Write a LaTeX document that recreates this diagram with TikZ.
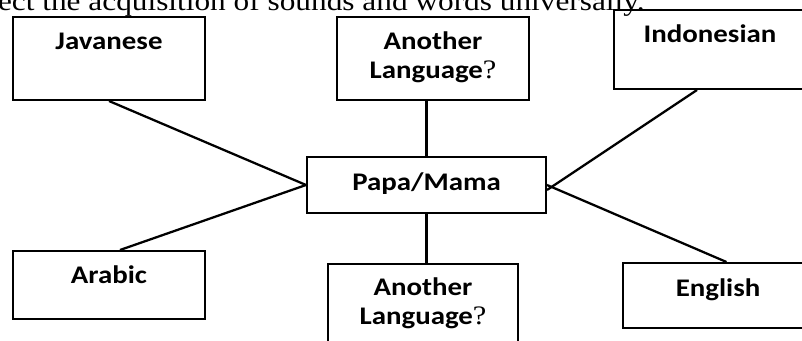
\documentclass[tikz,border=0pt]{standalone}
\usepackage{fontspec}
\setmainfont{Liberation Serif}
\newfontfamily\boxfont{Carlito}[FakeStretch=1.14]
\newfontfamily\topfont{Liberation Serif}[FakeStretch=1.14]
\usetikzlibrary{fit,calc}
\tikzset{
  box/.style={draw, line width=1.5pt, inner sep=0pt},
  lbl/.style={anchor=base, inner sep=0pt, font=\boxfont\bfseries\fontsize{19}{21.75}\selectfont},
  conn/.style={line width=1.7pt},
}
\newcommand{\qmark}{{\topfont\mdseries\fontsize{20}{22}\selectfont ?}}
\begin{document}
\begin{tikzpicture}[x=0.75pt,y=-0.75pt]
\useasboundingbox (0,0) rectangle (802,341);
\clip (0,0) rectangle (802,341);
\node[anchor=base east, inner sep=0pt, font=\topfont\fontsize{20.6}{22}\selectfont] (toptext) at (645,10.5) {ect the acquisition of sounds and words universally.};
% boxes
\node[box, fit={(13,17) (205,100)}] (jav) {};
\node[lbl] (javt) at (109,50) {Javanese};
\node[box, fit={(337,17) (529,100)}] (al1) {};
\node[lbl] (al1a) at (433,50) {Another};
\node[lbl] (al1b) at (433,79) {Language\qmark};
\node[box, fit={(614,10) (806,89)}] (ind) {};
\node[lbl] (indt) at (710,43) {Indonesian};
\node[box, fit={(307,157) (546,213)}] (pm) {};
\node[lbl] (pmt) at (426.5,191) {Papa/Mama};
\node[box, fit={(13,251) (205,319)}] (ar) {};
\node[lbl] (art) at (109,284) {Arabic};
\node[box, fit={(328,264) (518,360)}] (al2) {};
\node[lbl] (al2a) at (423,296) {Another};
\node[lbl] (al2b) at (423,325) {Language\qmark};
\node[box, fit={(623,263) (814,328)}] (en) {};
\node[lbl] (ent) at (718,297) {English};
% connectors
\draw[conn] (jav.south) -- (pm.west);
\draw[conn] ($(ar.north)+(11,0)$) -- (pm.west);
\draw[conn] (pm.north) -- (pm.north |- al1.south);
\draw[conn] (pm.south) -- (pm.south |- al2.north);
\draw[conn] ($(ind.south)+(-13,0)$) -- ($(pm.east)+(0,5)$);
\draw[conn] (pm.east) -- ($(en.north)+(8,0)$);
\end{tikzpicture}
\end{document}
